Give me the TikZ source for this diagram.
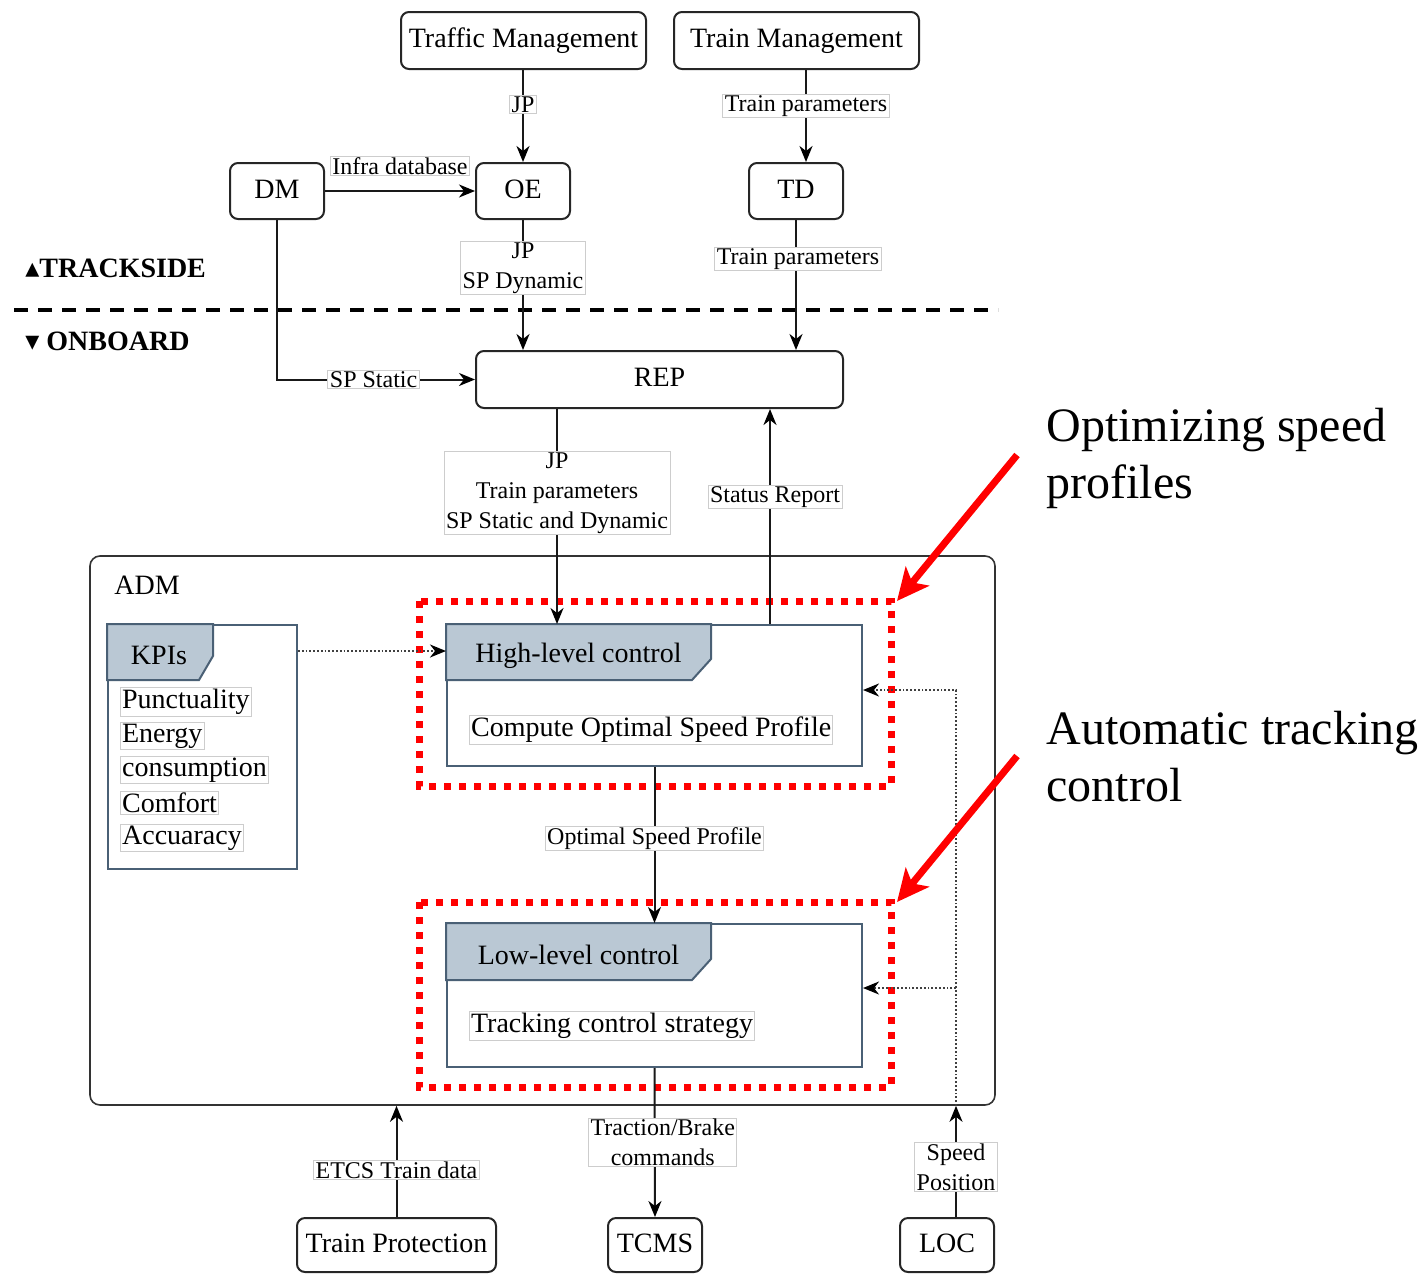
\documentclass[tikz,border=0pt]{standalone}
\usepackage{fontspec}
\setmainfont{Liberation Serif}
\newfontfamily\symfont{DejaVu Sans}
\usetikzlibrary{arrows.meta,calc}

\definecolor{slate}{RGB}{74,96,117}
\definecolor{headfill}{RGB}{186,200,212}
\definecolor{lblgray}{RGB}{205,205,205}
\definecolor{alertred}{RGB}{255,0,0}

\begin{document}
\begin{tikzpicture}[x=0.5pt,y=-0.5pt,
  box/.style={draw=black!85, line width=1pt, rounded corners=4pt, fill=white,
    inner sep=0pt, text height=0.92em, text depth=0.22em,
    font=\fontsize{14}{16}\selectfont},
  ctlbox/.style={draw=slate, line width=1pt, fill=white, inner sep=0pt},
  hdr/.style={draw=slate, fill=headfill, line width=1pt},
  hdrtxt/.style={inner sep=0pt, font=\fontsize{14}{16}\selectfont},
  lbl/.style={draw=lblgray, fill=white, line width=0.5pt, inner xsep=1pt,
    inner ysep=0.5pt, align=center, font=\fontsize{12}{15}\selectfont},
  item/.style={draw=lblgray, fill=white, line width=0.5pt, inner sep=0.8pt,
    font=\fontsize{14}{16}\selectfont, anchor=west},
  tip/.style={-{Stealth[length=8pt,width=6.5pt,inset=2.5pt,color=black]}},
  arr/.style={line width=1pt, draw=black!90, tip},
  dotarr/.style={line width=0.9pt, draw=black!75, densely dotted, tip},
  reddot/.style={draw=alertred, line width=3.5pt, dash pattern=on 3.5pt off 4pt},
  redarr/.style={draw=alertred, line width=3.5pt,
    -{Stealth[length=16pt,width=15pt,inset=4pt]}},
  note/.style={anchor=west, align=left, inner sep=0pt,
    font=\fontsize{24}{28.5}\selectfont},
  side/.style={anchor=west, inner sep=0pt, font=\fontsize{14}{16}\selectfont\bfseries}
]
\useasboundingbox (0,0) rectangle (1422,1274);

% ---------------- trackside ----------------
\node[box, minimum width=122.5pt, minimum height=28.5pt] (tfm) at (523.5,40.5) {Traffic Management};
\node[box, minimum width=122.5pt, minimum height=28.5pt] (trm) at (796.5,40.5) {Train Management};
\node[box, minimum width=47pt, minimum height=28pt] (dm) at (277,191) {DM};
\node[box, minimum width=47pt, minimum height=28pt] (oe) at (523,191) {OE};
\node[box, minimum width=47pt, minimum height=28pt] (td) at (796,191) {TD};

\node[side] (ts) at (25,268) {{\symfont\fontsize{14}{16}\selectfont ▴}TRACKSIDE};
\node[side] (ob) at (25,341) {{\symfont\fontsize{14}{16}\selectfont ▾} ONBOARD};
\draw[line width=2pt, dash pattern=on 7pt off 5pt] (14,310) -- (998,310);

% ---------------- onboard ----------------
\node[box, minimum width=183.5pt, minimum height=28.5pt] (rep) at (659.5,379.5) {REP};

\node[draw=black!80, line width=0.8pt, rounded corners=5pt, minimum width=452.5pt,
  minimum height=274.5pt, inner sep=0pt] (adm) at (542.5,830.5) {};
\node[anchor=west, inner sep=0pt, font=\fontsize{14}{16}\selectfont] (admlbl) at (114,585) {ADM};

% KPI panel
\node[ctlbox, minimum width=94.5pt, minimum height=122pt] (kpis) at (202.5,747) {};
\filldraw[hdr] (kpis.north west) -- ++(106,0) -- ++(0,32) -- ++(-14,24) -- ++(-92,0) -- cycle;
\node[hdrtxt] (kpititle) at ([shift={(52,31)}]kpis.north west) {KPIs};
\node[item] (k1) at (120,702) {Punctuality};
\node[item] (k2) at (120,736) {Energy};
\node[item] (k3) at (120,770) {consumption};
\node[item] (k4) at (120,803) {Comfort};
\node[item] (k5) at (120,838) {Accuaracy};

% control layers
\node[ctlbox, minimum width=207.5pt, minimum height=70.5pt] (hl) at (654.5,695.5) {};
\filldraw[hdr] (hl.north west) -- ++(265,0) -- ++(0,35) -- ++(-19,21) -- ++(-246,0) -- cycle;
\node[hdrtxt] (hltitle) at ([shift={(132.5,32)}]hl.north west) {High-level control};
\node[item] (hltask) at (469,730) {Compute Optimal Speed Profile};

\node[ctlbox, minimum width=207.5pt, minimum height=71.5pt] (ll) at (654.5,995.5) {};
\filldraw[hdr] (ll.north west) -- ++(265,0) -- ++(0,36) -- ++(-19,21) -- ++(-246,0) -- cycle;
\node[hdrtxt] (lltitle) at ([shift={(132.5,32)}]ll.north west) {Low-level control};
\node[item] (lltask) at (469,1026) {Tracking control strategy};

% highlighted groups
\draw[reddot] (419,601) rectangle (891,786);
\draw[reddot] (419,902) rectangle (891,1087);

% onboard equipment
\node[box, minimum width=99.5pt, minimum height=27pt] (tp) at (396.5,1245) {Train Protection};
\node[box, minimum width=47pt, minimum height=27pt] (tcms) at (655,1245) {TCMS};
\node[box, minimum width=47pt, minimum height=27pt] (loc) at (947,1245) {LOC};

% ---------------- connectors ----------------
\draw[arr] (oe.north |- tfm.south) -- node[lbl,pos=0.38]{JP} (oe.north);
\coordinate (tdin) at ([xshift=5pt]td.north);
\draw[arr] (tdin |- trm.south) -- node[lbl,pos=0.39]{Train parameters} (tdin);
\draw[arr] (dm.east) -- node[lbl,midway,yshift=12.5pt]{Infra database} (oe.west);
\draw[arr] (oe.south) -- node[lbl,pos=0.37]{JP\\SP Dynamic} (oe.south |- rep.north);
\draw[arr] (td.south) -- node[lbl,pos=0.30,xshift=1pt]{Train parameters} (td.south |- rep.north);
\draw[arr] (dm.south) |- node[lbl,pos=0.744]{SP Static} (rep.west);

\coordinate (hlin) at ([xshift=55.5pt]hl.north west);
\draw[arr] (hlin |- rep.south) -- node[lbl,pos=0.39]{JP\\Train parameters\\SP Static and Dynamic} (hlin);
\coordinate (hlout) at ([xshift=162pt]hl.north west);
\draw[arr] (hlout) -- node[lbl,pos=0.59,xshift=2.5pt]{Status Report} (hlout |- rep.south);

\draw[dotarr] ([yshift=-13.5pt]kpis.north east) -- ([yshift=-13.5pt]hl.north west);
\draw[arr] (hl.south) -- node[lbl,pos=0.46]{Optimal Speed Profile} (ll.north);
\draw[arr] (ll.south) -- node[lbl,pos=0.5,xshift=4pt]{Traction/Brake\\commands} (tcms.north);
\draw[arr] (tp.north) -- node[lbl,pos=0.42]{ETCS Train data} (tp.north |- adm.south);

\coordinate (locout) at ([xshift=4.5pt]loc.north);
\coordinate (fb) at (locout |- adm.south);
\draw[arr] (locout) -- node[lbl,pos=0.45]{Speed\\Position} (fb);
\draw[dotarr] (fb) |- ([yshift=2.75pt]hl.east);
\coordinate (llfb) at ([yshift=3.75pt]ll.east);
\draw[dotarr] (llfb -| fb) -- (llfb);

% ---------------- annotations ----------------
\node[note] (note1) at (1046,458) {Optimizing speed\\profiles};
\node[note] (note2) at (1046,757) {Automatic tracking\\control};
\draw[redarr] (1017,455) -- (897,601);
\draw[redarr] (1017,756) -- (897,902);
\end{tikzpicture}
\end{document}
